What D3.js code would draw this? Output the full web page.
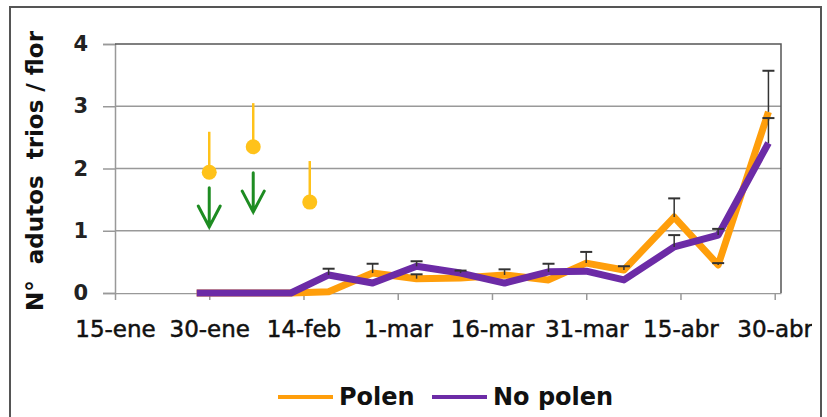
<!DOCTYPE html>
<html>
<head>
<meta charset="utf-8">
<script src="https://cdn.jsdelivr.net/npm/d3@7"></script>
<style>
  body { margin: 0; background: #fff; }
  svg { display: block; }
</style>
</head>
<body>
<svg id="chart" width="827" height="417"></svg>
<script>
// sampling dates (weekly)
const sampleDates = ["2014-01-28","2014-02-04","2014-02-12","2014-02-18","2014-02-25","2014-03-04",
  "2014-03-11","2014-03-18","2014-03-25","2014-03-31","2014-04-06","2014-04-14","2014-04-21","2014-04-29"];
const polen     = [0, 0, 0, 0.02, 0.32, 0.23, 0.24, 0.29, 0.21, 0.48, 0.37, 1.22, 0.45, 2.91];
const polenErr  = [0, 0, 0, 0, 0.15, 0.07, 0, 0.09, 0, 0.18, 0.06, 0.30, 0.03, 0.66];
const noPolen    = [0, 0, 0, 0.29, 0.16, 0.43, 0.32, 0.16, 0.34, 0.35, 0.21, 0.74, 0.93, 2.41];
const noPolenErr = [0, 0, 0, 0.10, 0, 0.08, 0.04, 0, 0.13, 0, 0, 0.19, 0.10, 0.40];

// yellow release points + green arrows
const releaseDates = ["2014-01-30","2014-02-06","2014-02-15"];
const releaseVals  = [1.94, 2.35, 1.46];
const releaseTop   = [2.59, 3.05, 2.12];
const arrowDates = ["2014-01-30","2014-02-06"];
const arrowTop   = [1.69, 1.93];
const arrowTip   = [1.06, 1.30];

const tickDates  = ["2014-01-15","2014-01-30","2014-02-14","2014-03-01","2014-03-16","2014-03-31","2014-04-15","2014-04-30"];
const tickLabels = ["15-ene","30-ene","14-feb","1-mar","16-mar","31-mar","15-abr","30-abr"];
const yTicks = [0, 1, 2, 3, 4];

const parse = d3.timeParse("%Y-%m-%d");
const plot = { left: 115, right: 781, top: 44, bottom: 293 };
const colors = { polen: "#FF9E0B", noPolen: "#6C2BA6", release: "#FFC21A", arrow: "#1E8C22" };

const svg = d3.select("#chart");

// outer frame
svg.append("rect")
  .attr("x", 10).attr("y", 7).attr("width", 811).attr("height", 430)
  .attr("fill", "none").attr("stroke", "#555").attr("stroke-width", 2);

const x = d3.scaleTime()
  .domain([parse("2014-01-15"), parse("2014-05-01")])
  .range([plot.left, plot.right]);
const y = d3.scaleLinear().domain([0, 4]).range([plot.bottom, plot.top]);

// grid + y axis
const yAxis = svg.append("g")
  .attr("transform", `translate(${plot.left},0)`)
  .call(d3.axisLeft(y).tickValues(yTicks).tickFormat(d3.format("d"))
    .tickSize(12).tickPadding(15));
yAxis.select(".domain").attr("stroke", "#999").attr("stroke-width", 1.5);
yAxis.selectAll(".tick line").attr("stroke", "#999").attr("stroke-width", 1.5);
yAxis.selectAll(".tick text")
  .attr("font-family", "DejaVu Sans").attr("font-weight", "bold")
  .attr("font-size", 21).attr("fill", "#222");

svg.append("g").selectAll("line").data(yTicks.filter(d => d > 0 && d < 4)).join("line")
  .attr("x1", plot.left).attr("x2", plot.right)
  .attr("y1", d => y(d)).attr("y2", d => y(d))
  .attr("stroke", "#999").attr("stroke-width", 1.5);

// plot border top/right
svg.append("path")
  .attr("d", `M${plot.left},${y(4)}H${plot.right}V${plot.bottom}`)
  .attr("fill", "none").attr("stroke", "#555").attr("stroke-width", 1.5);

// x axis
const xAxis = svg.append("g")
  .attr("transform", `translate(0,${plot.bottom})`)
  .call(d3.axisBottom(x).tickValues(tickDates.map(parse))
    .tickFormat((d, i) => tickLabels[i]).tickSize(7).tickPadding(21).tickSizeOuter(0));
xAxis.select(".domain").attr("stroke", "#999").attr("stroke-width", 1.5);
xAxis.selectAll(".tick line").attr("stroke", "#999").attr("stroke-width", 1.5);

svg.append("clipPath").attr("id", "labclip")
  .append("rect").attr("x", 0).attr("y", 0).attr("width", 812).attr("height", 417);
xAxis.attr("clip-path", "url(#labclip)");
xAxis.selectAll(".tick text")
  .attr("font-family", "DejaVu Sans").attr("font-size", 23)
  .attr("fill", "#111").attr("stroke", "#111").attr("stroke-width", 0.5);

// y title
svg.append("text")
  .attr("transform", `translate(43,171) rotate(-90)`)
  .attr("text-anchor", "middle")
  .attr("font-family", "DejaVu Sans").attr("font-weight", "bold").attr("font-size", 23)
  .attr("fill", "#111").attr("xml:space", "preserve")
  .text("N°  adutos  trios / flor");

// series lines
const series = [
  { name: "Polen", vals: polen, err: polenErr, color: colors.polen },
  { name: "No polen", vals: noPolen, err: noPolenErr, color: colors.noPolen }
];
const line = d3.line().x(d => x(d.date)).y(d => y(d.v)).curve(d3.curveLinear);

series.forEach(s => {
  const pts = sampleDates.map((d, i) => ({ date: parse(d), v: s.vals[i] }));
  svg.append("path").datum(pts)
    .attr("d", line)
    .attr("fill", "none").attr("stroke", s.color)
    .attr("stroke-width", 7).attr("stroke-linejoin", "round");
});

// error bars (plus direction)
series.forEach(s => {
  const eb = sampleDates.map((d, i) => ({ date: parse(d), v: s.vals[i], e: s.err[i] }))
    .filter(d => d.e > 0);
  const g = svg.append("g").attr("stroke", "#333");
  g.selectAll("line.v").data(eb).join("line").attr("class", "v")
    .attr("x1", d => x(d.date)).attr("x2", d => x(d.date))
    .attr("y1", d => y(d.v)).attr("y2", d => y(d.v + d.e))
    .attr("stroke-width", 1.5);
  g.selectAll("line.c").data(eb).join("line").attr("class", "c")
    .attr("x1", d => x(d.date) - 6).attr("x2", d => x(d.date) + 6)
    .attr("y1", d => y(d.v + d.e)).attr("y2", d => y(d.v + d.e))
    .attr("stroke-width", 2);
});

// release markers
const rel = releaseDates.map((d, i) => ({ date: parse(d), v: releaseVals[i], top: releaseTop[i] }));
svg.append("g").selectAll("line").data(rel).join("line")
  .attr("x1", d => x(d.date)).attr("x2", d => x(d.date))
  .attr("y1", d => y(d.v)).attr("y2", d => y(d.top))
  .attr("stroke", colors.release).attr("stroke-width", 2.5);
svg.append("g").selectAll("circle").data(rel).join("circle")
  .attr("cx", d => x(d.date)).attr("cy", d => y(d.v)).attr("r", 7.5)
  .attr("fill", colors.release);

// green arrows
const arr = arrowDates.map((d, i) => ({ date: parse(d), top: arrowTop[i], tip: arrowTip[i] }));
const ag = svg.append("g").attr("stroke", colors.arrow).attr("stroke-width", 3)
  .attr("fill", "none").attr("stroke-linecap", "round");
ag.selectAll("path").data(arr).join("path")
  .attr("d", d => {
    const cx = x(d.date), t = y(d.top), b = y(d.tip);
    return `M${cx},${t}V${b}M${cx - 11},${b - 21}L${cx},${b}L${cx + 11},${b - 21}`;
  });

// legend
const legend = svg.append("g");
const legItems = [
  { label: "Polen", color: colors.polen, x: 278 },
  { label: "No polen", color: colors.noPolen, x: 432 }
];
legItems.forEach(it => {
  legend.append("line")
    .attr("x1", it.x).attr("x2", it.x + 55).attr("y1", 397).attr("y2", 397)
    .attr("stroke", it.color).attr("stroke-width", 4);
  legend.append("text")
    .attr("x", it.x + 61).attr("y", 405)
    .attr("font-family", "DejaVu Sans").attr("font-weight", "bold").attr("font-size", 24)
    .attr("fill", "#111").text(it.label);
});
</script>
</body>
</html>
